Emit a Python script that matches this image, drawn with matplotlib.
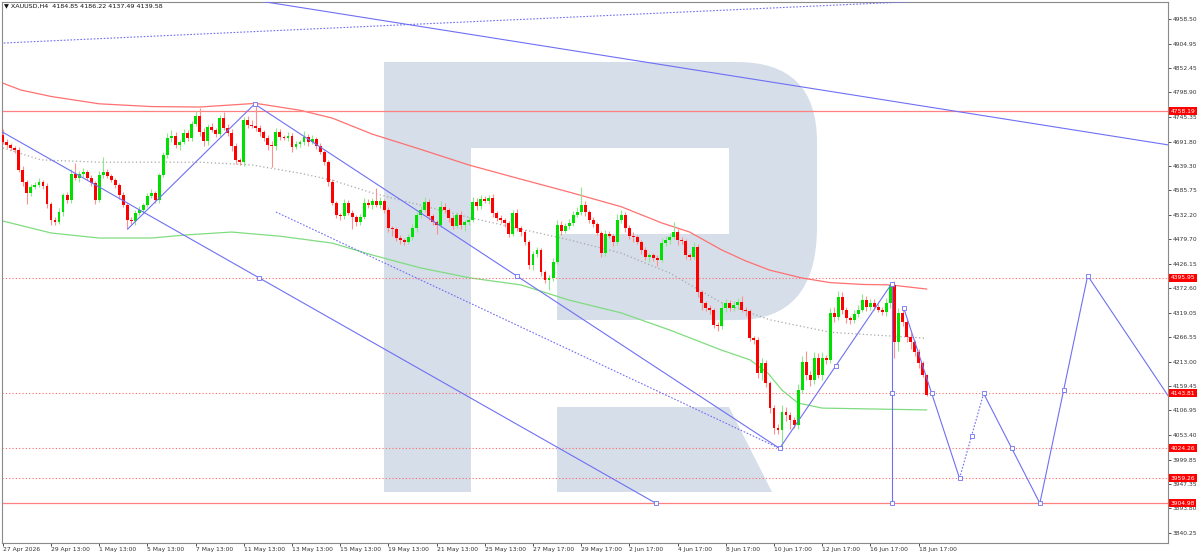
import numpy as np
import matplotlib
matplotlib.use('Agg')
import matplotlib.pyplot as plt
from matplotlib.path import Path
from matplotlib.patches import PathPatch, Polygon

plt.rcParams['font.family'] = ['DejaVu Sans']

header = '▼ XAUUSD,H4  4184.85 4186.22 4137.49 4139.58'

# H4 candles, open of the first bar then closes
first_open = 4706.1
closes = [
    4690.9, 4684.4, 4677.9, 4673.5, 4630.0, 4603.9, 4580.0, 4593.0, 4597.4, 4603.9,
    4595.2, 4556.0, 4521.2, 4516.9, 4538.6, 4575.6, 4564.7, 4621.3, 4612.6, 4621.3,
    4625.6, 4612.6, 4601.7, 4564.7, 4619.1, 4625.6, 4616.9, 4608.2, 4597.4, 4575.6,
    4553.8, 4521.2, 4519.0, 4536.4, 4543.0, 4553.8, 4573.4, 4580.0, 4564.7, 4619.1,
    4662.6, 4699.6, 4704.0, 4684.4, 4690.9, 4710.5, 4699.6, 4730.1, 4747.5, 4712.7,
    4693.1, 4723.5, 4717.0, 4708.3, 4743.1, 4721.4, 4710.5, 4682.2, 4651.7, 4647.4,
    4738.8, 4727.9, 4725.7, 4721.4, 4712.7, 4699.6, 4684.4, 4682.2, 4712.7, 4701.8,
    4699.6, 4704.0, 4680.0, 4686.6, 4690.9, 4701.8, 4690.9, 4697.4, 4682.2, 4669.2,
    4647.4, 4603.9, 4558.2, 4532.1, 4529.9, 4558.2, 4536.4, 4527.7, 4516.9, 4527.7,
    4558.2, 4553.8, 4562.5, 4553.8, 4562.5, 4543.0, 4503.8, 4501.6, 4482.1, 4477.7,
    4473.3, 4484.2, 4503.8, 4532.1, 4543.0, 4560.4, 4529.9, 4516.9, 4510.3, 4549.5,
    4543.0, 4525.6, 4508.2, 4532.1, 4510.3, 4516.9, 4521.2, 4560.4, 4551.7, 4566.9,
    4562.5, 4569.1, 4536.4, 4525.6, 4521.2, 4514.7, 4490.8, 4536.4, 4503.8, 4495.1,
    4473.3, 4423.3, 4447.2, 4455.9, 4408.1, 4390.7, 4395.0, 4429.8, 4510.3, 4497.3,
    4508.2, 4514.7, 4532.1, 4538.6, 4553.8, 4538.6, 4521.2, 4512.5, 4492.9, 4449.4,
    4490.8, 4486.4, 4473.3, 4521.2, 4532.1, 4503.8, 4486.4, 4484.2, 4473.3, 4455.9,
    4440.7, 4445.1, 4438.5, 4434.2, 4471.2, 4477.7, 4484.2, 4495.1, 4477.7, 4475.5,
    4445.1, 4440.7, 4462.5, 4364.6, 4340.6, 4329.8, 4325.4, 4292.8, 4290.6, 4329.8,
    4340.6, 4329.8, 4336.3, 4342.8, 4325.4, 4323.2, 4264.5, 4260.1, 4188.3, 4210.1,
    4166.6, 4112.2, 4068.7, 4064.3, 4103.5, 4097.0, 4086.1, 4075.2, 4151.4, 4212.3,
    4184.0, 4173.1, 4221.0, 4184.0, 4221.0, 4216.6, 4318.9, 4310.2, 4353.7, 4325.4,
    4308.0, 4303.6, 4316.7, 4325.4, 4347.2, 4331.9, 4340.6, 4331.9, 4325.4, 4321.1,
    4340.6, 4379.8, 4255.8, 4318.9, 4299.3, 4266.7, 4255.8, 4234.0, 4210.1, 4184.85,
    4139.58]

# wick lengths above / below the body, in dollars
upper_wick = [
    14, 6, 5, 4, 6, 8, 5, 7, 6, 8,
    5, 6, 4, 6, 8, 5, 7, 10, 24, 6,
    8, 5, 6, 4, 8, 32, 6, 5, 4, 5,
    6, 4, 7, 6, 8, 5, 6, 9, 5, 4,
    6, 10, 12, 8, 5, 9, 7, 6, 10, 17,
    8, 6, 9, 5, 6, 12, 8, 9, 6, 5,
    7, 8, 10, 48, 6, 5, 7, 8, 9, 6,
    5, 8, 6, 7, 5, 14, 6, 8, 5, 6,
    5, 4, 6, 5, 4, 8, 6, 7, 5, 6,
    10, 8, 7, 28, 8, 5, 6, 4, 5, 6,
    5, 6, 8, 7, 9, 10, 6, 5, 4, 12,
    8, 5, 6, 7, 9, 5, 6, 10, 8, 9,
    7, 6, 9, 5, 6, 4, 5, 6, 9, 5,
    4, 5, 7, 6, 5, 4, 6, 8, 12, 8,
    6, 9, 8, 10, 39, 8, 5, 6, 4, 5,
    8, 6, 5, 12, 10, 7, 6, 8, 5, 4,
    6, 5, 4, 6, 10, 8, 9, 22, 7, 6,
    5, 4, 10, 6, 5, 4, 6, 5, 7, 12,
    8, 6, 9, 8, 12, 6, 5, 4, 6, 10,
    7, 5, 6, 8, 15, 10, 6, 7, 14, 12,
    25, 8, 14, 10, 12, 6, 10, 14, 12, 10,
    6, 5, 8, 10, 12, 8, 9, 8, 6, 7,
    10, 2, 8, 10, 12, 6, 8, 5, 6, 5,
    1.4]
lower_wick = [
    5, 6, 4, 7, 5, 8, 25, 6, 5, 4,
    6, 8, 11, 6, 5, 8, 7, 6, 5, 8,
    6, 5, 7, 8, 5, 6, 4, 5, 6, 8,
    5, 20, 6, 8, 5, 6, 5, 4, 6, 7,
    5, 6, 8, 6, 10, 5, 6, 7, 5, 8,
    10, 8, 5, 6, 7, 5, 6, 10, 8, 6,
    8, 6, 5, 7, 8, 6, 10, 46, 8, 6,
    5, 6, 10, 5, 7, 6, 8, 5, 6, 5,
    6, 8, 5, 7, 8, 6, 5, 25, 8, 6,
    5, 6, 8, 5, 6, 7, 8, 15, 6, 8,
    6, 5, 7, 8, 6, 5, 8, 6, 20, 5,
    6, 8, 7, 5, 8, 12, 6, 5, 8, 6,
    5, 6, 8, 7, 6, 8, 6, 5, 7, 8,
    6, 8, 10, 6, 8, 7, 21, 6, 5, 8,
    5, 6, 7, 5, 6, 8, 6, 7, 5, 8,
    6, 5, 8, 6, 7, 8, 6, 10, 5, 8,
    6, 10, 6, 12, 5, 6, 8, 5, 10, 6,
    8, 6, 5, 10, 15, 6, 8, 7, 10, 6,
    8, 7, 6, 8, 5, 10, 6, 8, 10, 15,
    8, 10, 12, 8, 41, 12, 20, 6, 8, 6,
    10, 12, 8, 6, 10, 8, 6, 10, 6, 8,
    10, 8, 6, 7, 5, 8, 6, 7, 5, 6,
    8, 10, 35, 20, 8, 10, 15, 8, 10, 6,
    2.1]

# indicator lines, read at some bars
ma_red_bar = [0, 4.5, 12, 24, 37, 49, 56, 63, 74, 82, 92, 104, 116, 129, 141, 154,
              164, 171, 179, 185, 191, 199, 206, 214, 221, 230]
ma_red_val = [4819, 4804, 4790, 4774, 4768, 4767, 4771, 4775, 4760, 4743, 4708, 4675,
              4641, 4610, 4582, 4550, 4515, 4495, 4456, 4432, 4412, 4395, 4385, 4381,
              4380, 4371]
ma_green_bar = [0, 12, 24, 37, 46, 57, 69, 82, 92, 104, 116.5, 129, 141, 154, 166,
                179, 186, 190.5, 194, 198, 204, 230]
ma_green_val = [4519, 4493, 4482, 4482, 4489, 4495, 4486, 4471, 4445, 4417, 4395, 4380,
                4347, 4319, 4282, 4238, 4217, 4188, 4151, 4123, 4112, 4108]
ma_gray_bar = [0, 9.5, 24, 49, 62, 74, 82, 92, 116.5, 141, 154, 166, 179, 191, 206, 230]
ma_gray_val = [4678, 4652, 4647, 4647, 4641, 4623, 4608, 4580, 4526, 4478, 4449, 4406,
               4341, 4304, 4277, 4264]

# drawn objects
solid_levels = [4758.19, 3904.98]
dotted_levels = [4395.95, 4143.81, 4024.26, 3959.26]
solid_lines = [
    ([63.7, 290.3], [4998.0, 4684.4]),
    ([-0.5, 162.6], [4714.6, 3904.98]),
    ([62.7, 193.4], [4773.6, 4024.26]),
    ([31.1, 62.7], [4501.6, 4773.6]),
    ([193.4, 221.3], [4024.26, 4382.5]),
    ([221.3, 221.3], [4382.5, 3904.98]),
    ([224.3, 238.2], [4329.8, 3959.26]),
    ([244.2, 258.2, 270.1, 290.5], [4143.81, 3904.98, 4400.0, 4134.0]),
]
dotted_lines = [
    ([0.25, 229.8], [4906.3, 4997.7]),
    ([68.0, 193.4], [4538.6, 4024.26]),
    ([238.2, 244.2], [3959.26, 4143.81]),
]
marker_bar = [62.7, 63.7, 128.1, 162.6, 193.4, 207.4, 221.3, 221.3, 221.3, 224.3, 231.3,
              238.2, 241.2, 244.2, 251.2, 258.2, 264.1, 270.1]
marker_val = [4773.6, 4395.95, 4398.9, 3904.98, 4024.26, 4203.0, 4382.5, 4143.81, 3904.98,
              4329.8, 4144.5, 3959.26, 4051.5, 4143.81, 4024.4, 3904.98, 4152.0, 4400.0]

price_ticks = [4958.50, 4904.95, 4852.45, 4798.90, 4745.35, 4691.80, 4639.30, 4585.75,
               4532.20, 4479.70, 4426.15, 4372.60, 4319.05, 4266.55, 4213.00, 4159.45,
               4106.95, 4053.40, 3999.85, 3947.35, 3893.80, 3840.25]
time_labels = ['27 Apr 2026', '29 Apr 13:00', '1 May 13:00', '5 May 13:00', '7 May 13:00',
               '11 May 13:00', '13 May 13:00', '15 May 13:00', '19 May 13:00',
               '21 May 13:00', '25 May 13:00', '27 May 17:00', '29 May 17:00',
               '2 Jun 17:00', '4 Jun 17:00', '8 Jun 17:00', '10 Jun 17:00',
               '12 Jun 17:00', '16 Jun 17:00', '18 Jun 17:00']
bars_per_label = 12

W, H = 1200, 555
fig = plt.figure(figsize=(W / 100, H / 100), dpi=100)
fig.patch.set_facecolor('white')

# watermark logo behind the chart (pixel coordinates)
bg = fig.add_axes([0, 0, 1, 1], zorder=0)
bg.set_xlim(0, W)
bg.set_ylim(H, 0)
bg.axis('off')
logo = '#d5dee9'
verts = [(384, 62), (737, 62), (817, 62), (817, 142), (817, 227), (817, 320), (737, 320),
         (557, 320), (557, 234), (729, 234), (729, 148), (471, 148), (471, 492),
         (384, 492), (384, 62)]
codes = [Path.MOVETO, Path.LINETO, Path.CURVE3, Path.CURVE3, Path.LINETO, Path.CURVE3,
         Path.CURVE3, Path.LINETO, Path.LINETO, Path.LINETO, Path.LINETO, Path.LINETO,
         Path.LINETO, Path.LINETO, Path.CLOSEPOLY]
bg.add_patch(PathPatch(Path(verts, codes), fc=logo, ec='none'))
bg.add_patch(Polygon([(557, 407), (729, 407), (772, 492), (557, 492)], fc=logo, ec='none'))

ax = fig.add_axes([2 / W, 12 / H, 1166 / W, 541 / H], zorder=1)
ax.set_facecolor('none')

closes = np.array(closes)
opens = np.concatenate([[first_open], closes[:-1]])
idx = np.arange(len(closes))
highs = np.maximum(opens, closes) + np.array(upper_wick)
lows = np.minimum(opens, closes) - np.array(lower_wick)
up = closes >= opens

# candles
ax.vlines(idx[up], lows[up], highs[up], color='#8fe68f', lw=0.8, zorder=3)
ax.vlines(idx[~up], lows[~up], highs[~up], color='#ff9090', lw=0.8, zorder=3)
body = np.maximum(np.abs(closes - opens), 1.8)
ax.bar(idx[up], body[up], bottom=np.minimum(opens, closes)[up], width=0.72,
       color='#00e000', lw=0, zorder=4)
ax.bar(idx[~up], body[~up], bottom=np.minimum(opens, closes)[~up], width=0.72,
       color='#ff0000', lw=0, zorder=4)

# moving averages
ax.plot(ma_red_bar, ma_red_val, color='#ff7070', lw=0.9, zorder=2)
ax.plot(ma_green_bar, ma_green_val, color='#80dc80', lw=0.9, zorder=2)
ax.plot(ma_gray_bar, ma_gray_val, color='#a8a8a8', lw=0.9, ls=(0, (1, 2)), zorder=2)

# levels
for lv in solid_levels:
    ax.axhline(lv, color='#ff8080', lw=0.9, zorder=2)
for lv in dotted_levels:
    ax.axhline(lv, color='#ff6a6a', lw=0.8, ls=(0, (1, 2)), zorder=2)

# trend lines
blue = '#6f6ff5'
for xs, ys in solid_lines:
    ax.plot(xs, ys, color=blue, lw=0.8, zorder=5)
for xs, ys in dotted_lines:
    ax.plot(xs, ys, color=blue, lw=0.8, ls=(0, (1.5, 1.5)), zorder=5)
ax.plot(marker_bar, marker_val, ls='none', marker='s', ms=2.6, mfc='white', mec=blue,
        mew=0.6, zorder=6)

ax.set_xlim(-0.2, 290.1)
ax.set_ylim(3818.5, 4995.5)

# axes look
for s in ax.spines.values():
    s.set_color('#8a8a8a')
    s.set_linewidth(0.8)
ax.yaxis.tick_right()
ax.set_yticks(price_ticks)
ax.set_yticklabels([f'{v:.2f}' for v in price_ticks])
ax.tick_params(axis='y', length=2, width=0.6, pad=1.5, labelsize=4.3, colors='#333333')
ax.set_xticks(idx[::bars_per_label][:len(time_labels)])
ax.set_xticklabels(time_labels)
ax.tick_params(axis='x', length=2, width=0.6, pad=1.0, labelsize=4.3, colors='#333333')
for lbl in ax.get_xticklabels():
    lbl.set_ha('left')

# red price tags on the right scale
for lv in solid_levels + dotted_levels:
    ax.text(1.0 + 2.5 / 1166, lv, f'{lv:.2f}', transform=ax.get_yaxis_transform(),
            ha='left', va='center', fontsize=4.3, color='white', clip_on=False,
            zorder=10, bbox=dict(boxstyle='square,pad=0.25', fc='#ff0000', ec='none'))

fig.text(4 / W, 1 - 3 / H, header, fontsize=4.6, va='top', ha='left', color='#111111')

fig.savefig('out.png', dpi=100)
